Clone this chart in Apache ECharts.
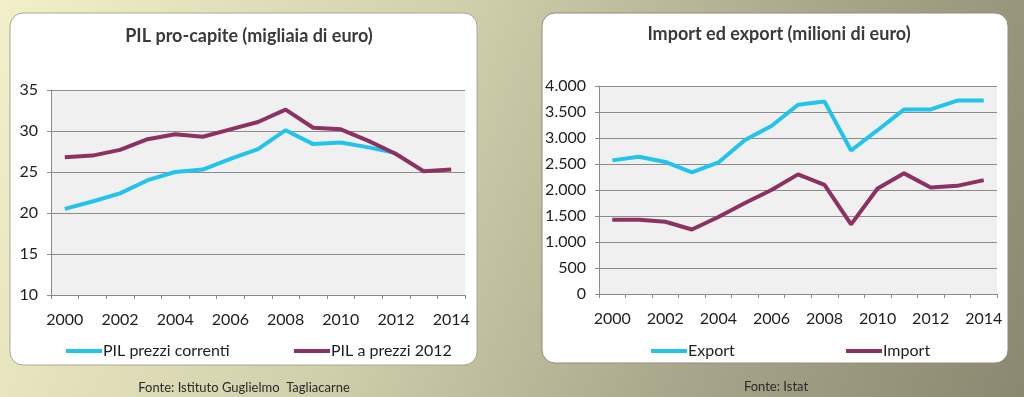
<!DOCTYPE html>
<html>
<head>
<meta charset="utf-8">
<script src="https://cdn.jsdelivr.net/npm/echarts@6/dist/echarts.min.js"></script>
<style>
  html, body { margin: 0; padding: 0; }
  #chart { width: 1024px; height: 397px; }
</style>
</head>
<body>
<div id="chart"></div>
<script>
// anni
var years = ['2000', '2001', '2002', '2003', '2004', '2005', '2006', '2007',
  '2008', '2009', '2010', '2011', '2012', '2013', '2014']
// PIL pro-capite (migliaia di euro)
var pilCorrenti = [20.5, 21.4, 22.4, 24.0, 25.0, 25.3, 26.6, 27.8,
  30.1, 28.4, 28.6, 28.0, 27.3, null, null]
var pilPrezzi2012 = [26.8, 27.0, 27.7, 29.0, 29.6, 29.3, 30.2, 31.1,
  32.6, 30.4, 30.2, 28.8, 27.2, 25.1, 25.3]
// import / export (milioni di euro)
var exportVal = [2570, 2640, 2540, 2340, 2530, 2960, 3230, 3640,
  3700, 2760, 3150, 3550, 3550, 3720, 3720]
var importVal = [1430, 1430, 1390, 1240, 1480, 1750, 2000, 2300,
  2100, 1340, 2030, 2320, 2050, 2080, 2190]

var cyan = '#22c4ee'
var purple = '#8c3262'
var font = 'Lato'
var txt = '#1e1e1e'

var myChart = echarts.init(document.getElementById('chart'))

function xAxis(idx) {
  return {
    gridIndex: idx,
    type: 'category',
    data: years,
    boundaryGap: true,
    axisLine: { lineStyle: { color: '#8a8a8a' } },
    axisTick: { show: true, interval: 0, length: 4, lineStyle: { color: '#8a8a8a' } },
    axisLabel: { interval: 1, color: txt, fontSize: 16, fontFamily: font, margin: 17 },
    splitLine: { show: false }
  }
}

function yAxis(idx, min, max, step, fmt) {
  return {
    gridIndex: idx,
    type: 'value',
    min: min,
    max: max,
    interval: step,
    axisLine: { show: true, lineStyle: { color: '#8a8a8a' } },
    axisTick: { show: true, length: 4, lineStyle: { color: '#8a8a8a' } },
    axisLabel: { color: txt, fontSize: 16, fontFamily: font, margin: 13, formatter: fmt },
    splitLine: { show: true, lineStyle: { color: '#8c8c8c', width: 1 } }
  }
}

function line(name, data, color, idx) {
  return {
    name: name,
    type: 'line',
    xAxisIndex: idx,
    yAxisIndex: idx,
    data: data,
    symbol: 'none',
    lineStyle: { color: color, width: 4 },
    itemStyle: { color: color },
    connectNulls: false
  }
}

function legend(name, left) {
  return {
    data: [name],
    left: left,
    top: 338,
    icon: 'rect',
    itemWidth: 36,
    itemHeight: 4,
    textStyle: { color: txt, fontSize: 16, fontFamily: font, padding: [0, 0, 0, -4] }
  }
}

var option = {
  backgroundColor: new echarts.graphic.LinearGradient(0, 0, 1, 1, [
    { offset: 0, color: '#f2f0c8' },
    { offset: 0.4, color: '#cfcfab' },
    { offset: 0.7, color: '#a8a78b' },
    { offset: 1, color: '#8a8870' }
  ]),
  graphic: [
    {
      type: 'rect', z: -1,
      shape: { x: 10, y: 13, width: 467, height: 352, r: 13 },
      style: { fill: '#fff', stroke: '#a9a892', lineWidth: 1 }
    },
    {
      type: 'rect', z: -1,
      shape: { x: 542, y: 13, width: 466, height: 350, r: 13 },
      style: { fill: '#fff', stroke: '#8f8d78', lineWidth: 1 }
    },
    {
      type: 'text',
      style: { text: 'Fonte: Istituto Guglielmo  Tagliacarne', x: 244, y: 388, textAlign: 'center', textVerticalAlign: 'middle', fill: '#2a2a2a', font: '13px Lato' }
    },
    {
      type: 'text',
      style: { text: 'Fonte: Istat', x: 776, y: 387, textAlign: 'center', textVerticalAlign: 'middle', fill: '#2a2a2a', font: '13px Lato' }
    }
  ],
  title: [
    {
      text: 'PIL pro-capite (migliaia di euro)',
      left: 244, top: 22, textAlign: 'center',
      textStyle: { color: '#3a3a3a', fontSize: 18, fontWeight: 'bold', fontFamily: font }
    },
    {
      text: 'Import ed export (milioni di euro)',
      left: 774, top: 20, textAlign: 'center',
      textStyle: { color: '#3a3a3a', fontSize: 18, fontWeight: 'bold', fontFamily: font }
    }
  ],
  legend: [
    legend('PIL prezzi correnti', 61),
    legend('PIL a prezzi 2012', 289),
    legend('Export', 646),
    legend('Import', 841)
  ],
  grid: [
    { left: 51, right: 559, top: 90, bottom: 102, show: true, backgroundColor: '#f0f0f0', borderWidth: 0 },
    { left: 599, right: 27, top: 86, bottom: 103, show: true, backgroundColor: '#f0f0f0', borderWidth: 0 }
  ],
  xAxis: [xAxis(0), xAxis(1)],
  yAxis: [
    yAxis(0, 10, 35, 5, null),
    yAxis(1, 0, 4000, 500, function(v) {
      return v >= 1000 ? Math.floor(v / 1000) + '.' + String(v % 1000).padStart(3, '0') : String(v)
    })
  ],
  series: [
    line('PIL prezzi correnti', pilCorrenti, cyan, 0),
    line('PIL a prezzi 2012', pilPrezzi2012, purple, 0),
    line('Export', exportVal, cyan, 1),
    line('Import', importVal, purple, 1)
  ]
}

myChart.setOption(option)
</script>
</body>
</html>
